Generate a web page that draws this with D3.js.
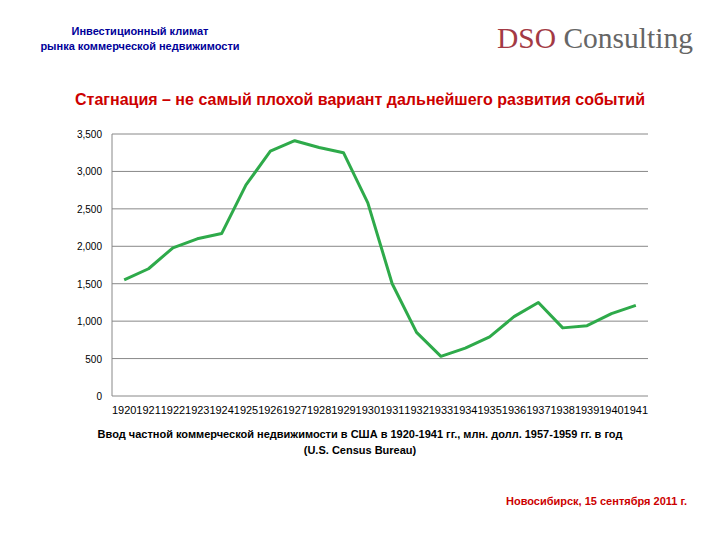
<!doctype html>
<html>
<head>
<script src="https://d3js.org/d3.v7.min.js"></script>
<style>
  body { margin: 0; background: #fff; }
  text { font-family: "Liberation Sans", Arial, sans-serif; }
  text.logo { font-family: "Liberation Serif", "DejaVu Serif", serif; }
</style>
</head>
<body>
<svg width="720" height="540"></svg>
<script>
var years = ["1920","1921","1922","1923","1924","1925","1926","1927","1928","1929","1930",
             "1931","1932","1933","1934","1935","1936","1937","1938","1939","1940","1941"];
var values = [1550, 1700, 1980, 2100, 2170, 2820, 3270, 3410, 3320, 3250, 2580,
              1500, 850, 530, 640, 790, 1060, 1250, 910, 940, 1100, 1210];
var yTicks = [0, 500, 1000, 1500, 2000, 2500, 3000, 3500];

var svg = d3.select("svg");

// header
svg.append("text").attr("x", 140).attr("y", 35).attr("text-anchor", "middle")
    .attr("font-size", 11).attr("font-weight", "bold").attr("fill", "#000099")
    .text("Инвестиционный климат");
svg.append("text").attr("x", 140).attr("y", 50).attr("text-anchor", "middle")
    .attr("font-size", 11).attr("font-weight", "bold").attr("fill", "#000099")
    .text("рынка коммерческой недвижимости");

var logo = svg.append("text").attr("class", "logo").attr("x", 497).attr("y", 48)
    .attr("font-size", 30).attr("textLength", 196).attr("lengthAdjust", "spacingAndGlyphs");
logo.append("tspan").attr("fill", "#a33a45").text("DSO ");
logo.append("tspan").attr("fill", "#666").text("Consulting");

svg.append("text").attr("x", 360).attr("y", 105).attr("text-anchor", "middle")
    .attr("font-size", 16).attr("font-weight", "bold").attr("fill", "#cc0000")
    .attr("textLength", 570).attr("lengthAdjust", "spacingAndGlyphs")
    .text("Стагнация – не самый плохой вариант дальнейшего развития событий");

// chart
var x = d3.scaleBand().domain(years).range([112, 648]);
var y = d3.scaleLinear().domain([0, 3500]).range([396, 134]);

svg.append("g").selectAll("line").data(yTicks).enter().append("line")
    .attr("x1", 112).attr("x2", 648)
    .attr("y1", d => y(d)).attr("y2", d => y(d))
    .attr("stroke", "#888").attr("stroke-width", 1);

svg.append("line").attr("x1", 112).attr("x2", 112).attr("y1", 134).attr("y2", 396)
    .attr("stroke", "#888");

svg.append("g").selectAll("text").data(yTicks).enter().append("text")
    .attr("x", 102).attr("y", d => y(d) + 4).attr("text-anchor", "end")
    .attr("font-size", 10).text(d3.format(","));

svg.append("g").selectAll("text").data(years).enter().append("text")
    .attr("x", d => x(d) + x.bandwidth() / 2).attr("y", 414)
    .attr("text-anchor", "middle").attr("font-size", 10).attr("textLength", 24.4)
    .attr("lengthAdjust", "spacingAndGlyphs").text(d => d);

var line = d3.line().x((d, i) => x(years[i]) + x.bandwidth() / 2).y(d => y(d));
svg.append("path").datum(values).attr("d", line)
    .attr("fill", "none").attr("stroke", "#2eaa4a").attr("stroke-width", 3)
    .attr("stroke-linejoin", "round");

svg.append("text").attr("x", 360).attr("y", 438).attr("text-anchor", "middle")
    .attr("font-size", 11).attr("font-weight", "bold")
    .text("Ввод частной коммерческой недвижимости в США в 1920-1941 гг., млн. долл. 1957-1959 гг.  в год");
svg.append("text").attr("x", 360).attr("y", 454).attr("text-anchor", "middle")
    .attr("font-size", 11).attr("font-weight", "bold")
    .text("(U.S. Census Bureau)");

svg.append("text").attr("x", 687).attr("y", 505).attr("text-anchor", "end")
    .attr("font-size", 11).attr("font-weight", "bold").attr("fill", "#cc0000")
    .text("Новосибирск, 15 сентября 2011 г.");
</script>
</body>
</html>
